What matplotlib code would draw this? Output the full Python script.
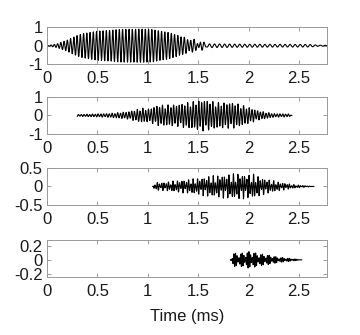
import numpy as np
import matplotlib
matplotlib.use("Agg")
import matplotlib.pyplot as plt

plt.rcParams['font.family'] = ['Liberation Sans', 'DejaVu Sans']
plt.rcParams['font.size'] = 12

fs = 500.0  # samples per ms

# envelope knots: (time in ms, peak amplitude)
env1_t = [0.0, 0.1, 0.2, 0.3, 0.35, 0.5, 0.7, 0.9, 1.05, 1.2, 1.3, 1.4, 1.5, 1.55, 1.6]
env1_a = [0.0, 0.1, 0.3, 0.55, 0.65, 0.78, 0.87, 0.9, 0.87, 0.72, 0.55, 0.35, 0.2, 0.12, 0.0]
tail1_t = [1.3, 1.5, 1.6, 2.0, 2.4, 2.6, 2.7, 2.78]
tail1_a = [0.0, 0.12, 0.1, 0.08, 0.07, 0.07, 0.03, 0.02]
f1_main, f1_tail = 31.0, 20.0  # kHz

env2_t = [0.3, 0.6, 0.8, 0.95, 1.0, 1.1, 1.3, 1.5, 1.55, 1.7, 1.85, 2.0, 2.1, 2.25, 2.4, 2.43]
env2_a = [0.05, 0.1, 0.2, 0.4, 0.35, 0.55, 0.6, 0.8, 0.85, 0.7, 0.7, 0.45, 0.25, 0.1, 0.08, 0.0]
f2_carrier, f2_beat = 36.0, 20.0

env3_t = [1.05, 1.07, 1.15, 1.3, 1.5, 1.6, 1.7, 1.8, 1.9, 2.0, 2.05, 2.15, 2.3, 2.45, 2.65]
env3_a = [0.0, 0.11, 0.11, 0.16, 0.22, 0.28, 0.3, 0.33, 0.35, 0.32, 0.33, 0.22, 0.12, 0.05, 0.0]
f3_carrier, f3_beat = 45.0, 20.0

env4_t = [1.82, 1.85, 1.95, 2.0, 2.05, 2.15, 2.3, 2.45, 2.53]
env4_a = [0.0, 0.1, 0.1, 0.12, 0.11, 0.08, 0.04, 0.015, 0.0]
f4_carrier, f4_beat = 60.0, 15.0

ylims = [(-1, 1), (-1, 1), (-0.5, 0.5), (-0.245, 0.285)]
yticks = [[-1, 0, 1], [-1, 0, 1], [-0.5, 0, 0.5], [-0.2, 0, 0.2]]
ylabels = [['-1', '0', '1'], ['-1', '0', '1'], ['-0.5', '0', '0.5'], ['-0.2', '0', '0.2']]
xticks = [0, 0.5, 1, 1.5, 2, 2.5]
xlabels = ['0', '0.5', '1', '1.5', '2', '2.5']


def beat(t, env_t, env_a, fc, fb, depth):
    e = np.interp(t, env_t, env_a)
    m = (1 - depth) + depth * np.abs(np.cos(np.pi * fb * t))
    return e * m * np.sin(2 * np.pi * fc * t)


t1 = np.arange(0, 2.78, 1 / fs)
s1 = np.interp(t1, env1_t, env1_a) * np.sin(2 * np.pi * f1_main * t1) \
    + np.interp(t1, tail1_t, tail1_a) * np.sin(2 * np.pi * f1_tail * t1)

t2 = np.arange(env2_t[0], env2_t[-1], 1 / fs)
s2 = beat(t2, env2_t, env2_a, f2_carrier, f2_beat, 0.4)

t3 = np.arange(env3_t[0], env3_t[-1], 1 / fs)
s3 = beat(t3, env3_t, env3_a, f3_carrier, f3_beat, 0.85)

t4 = np.arange(env4_t[0], env4_t[-1], 1 / fs)
s4 = beat(t4, env4_t, env4_a, f4_carrier, f4_beat, 0.85)

fig = plt.figure(figsize=(3.6, 3.35), dpi=100)
bottoms = [0.808, 0.600, 0.388, 0.173]
series = [(t1, s1), (t2, s2), (t3, s3), (t4, s4)]

for i in range(4):
    ax = fig.add_axes([0.1306, bottoms[i], 0.778, 0.111])
    t, s = series[i]
    ax.plot(t, s, color='black', linewidth=0.8)
    ax.set_xlim(0, 2.78)
    ax.set_ylim(*ylims[i])
    ax.set_xticks(xticks)
    ax.set_xticklabels(xlabels)
    ax.set_yticks(yticks[i])
    ax.set_yticklabels(ylabels[i])
    ax.tick_params(axis='x', pad=5)
    ax.tick_params(axis='y', pad=3)
    ax.tick_params(direction='in', length=3, width=0.6, color='0.55',
                   top=True, right=True, labelcolor='0.1')
    for sp in ax.spines.values():
        sp.set_color('0.6')
        sp.set_linewidth(0.7)
    if i == 3:
        ax.set_xlabel('Time (ms)', color='0.1', labelpad=7)

plt.savefig('out.png', dpi=100)
